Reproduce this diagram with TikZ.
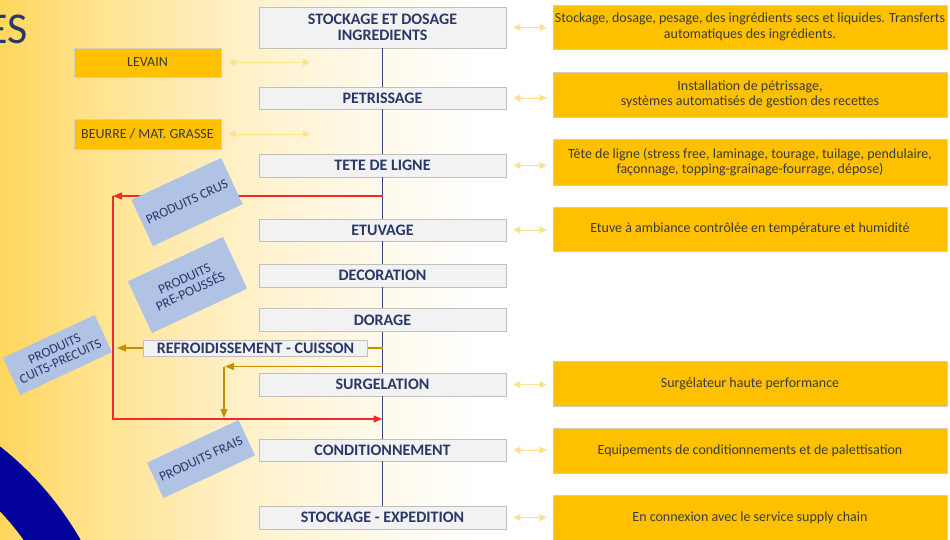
\documentclass[tikz,border=0pt]{standalone}
\usepackage{fontspec}
\setmainfont{Carlito}
\usetikzlibrary{arrows.meta}
\definecolor{yl0}{HTML}{FFD75E}
\definecolor{yl1}{HTML}{FFE28A}
\definecolor{yl2}{HTML}{FFEDBA}
\definecolor{yl3}{HTML}{FFF7E2}
\definecolor{navyarc}{HTML}{02029A}
\definecolor{navytxt}{HTML}{2A3868}
\definecolor{boxgray}{HTML}{BFBFBF}
\definecolor{boxfill}{HTML}{F2F2F2}
\definecolor{gold}{HTML}{FFC000}
\definecolor{goldborder}{HTML}{D6CDB4}
\definecolor{infotxt}{HTML}{3C3C3C}
\definecolor{pale}{HTML}{FFE08C}
\definecolor{redline}{HTML}{F02A2A}
\definecolor{olive}{HTML}{BF9000}
\definecolor{mainln}{HTML}{3A4677}
\definecolor{prodblue}{HTML}{B0C3E5}
\pgfdeclarehorizontalshading{bgshade}{100bp}{color(0bp)=(yl0); color(25bp)=(yl0); color(33bp)=(yl1); color(43bp)=(yl2); color(55bp)=(yl3); color(68bp)=(white); color(100bp)=(white)}
\begin{document}
\begin{tikzpicture}[x=1pt,y=-1pt,
  stepbox/.style={draw=boxgray, fill=boxfill, line width=0.9pt, minimum width=247pt, inner sep=0pt,
    font=\fontsize{16}{16.5}\selectfont\bfseries, text=navytxt, align=center},
  infobox/.style={draw=goldborder, fill=gold, line width=0.9pt, minimum width=394pt, inner sep=0pt,
    font=\fontsize{14}{15.5}\selectfont, text=infotxt, align=center},
  sidebox/.style={draw=goldborder, fill=gold, line width=0.9pt, minimum width=147pt, inner sep=0pt,
    font=\fontsize{14}{15}\selectfont, text=infotxt, align=center},
  prodbox/.style={fill=prodblue, rotate=25, inner sep=1pt, text=navytxt,
    font=\fontsize{13.5}{14}\selectfont, align=center},
  dbl/.style={draw=pale, line width=1pt, {Triangle[length=7pt,width=7pt]}-{Triangle[length=7pt,width=7pt]}},
  mainline/.style={draw=mainln, line width=1.3pt},
  redarrow/.style={draw=redline, line width=1.2pt, -{Triangle[length=9pt,width=7pt]}},
  goldarrow/.style={draw=olive, line width=1.2pt, -{Triangle[length=9pt,width=7pt]}},
  goldln/.style={draw=olive, line width=1.2pt}]
\useasboundingbox (0,0) rectangle (950,539);
% background
\fill[white] (0,0) rectangle (950,539);
\fill[shading=bgshade] (0,0) rectangle (560,539);
\begin{scope}
  \clip (0,0) rectangle (950,539);
  \fill[navyarc, even odd rule] (-200,700) circle (323pt) (-200,700) circle (275pt);
  \node[anchor=base east, inner sep=0pt, text=navytxt, font=\fontsize{44}{44}\selectfont] (title) at (28,43) {ES};
\end{scope}

% main steps
\node[stepbox, minimum height=41pt] (s1) at (382.5,27.5) {STOCKAGE ET DOSAGE\\INGREDIENTS};
\node[stepbox, minimum height=22pt] (s2) at (382.5,98) {PETRISSAGE};
\node[stepbox, minimum height=23pt] (s3) at (382.5,165.5) {TETE DE LIGNE};
\node[stepbox, minimum height=22pt] (s4) at (382.5,230) {ETUVAGE};
\node[stepbox, minimum height=23pt] (s5) at (382.5,275.5) {DECORATION};
\node[stepbox, minimum height=23pt] (s6) at (382.5,320) {DORAGE};
\node[stepbox, minimum height=16pt, minimum width=224pt] (cuis) at (255.5,348) {REFROIDISSEMENT - CUISSON};
\node[stepbox, minimum height=23pt] (s7) at (382.5,384.5) {SURGELATION};
\node[stepbox, minimum height=22pt] (s8) at (382.5,450) {CONDITIONNEMENT};
\node[stepbox, minimum height=23pt] (s9) at (382.5,517.5) {STOCKAGE - EXPEDITION};

% main line
\draw[mainline] (s1.south) -- (s2.north);
\draw[mainline] (s2.south) -- (s3.north);
\draw[mainline] (s3.south) -- (s4.north);
\draw[mainline] (s4.south) -- (s5.north);
\draw[mainline] (s5.south) -- (s6.north);
\draw[mainline] (s6.south) -- (s7.north);
\draw[mainline] (s7.south) -- (s8.north);
\draw[mainline] (s8.south) -- (s9.north);

% info boxes
\node[infobox, minimum height=44pt] (d1) at (750,27) {Stockage, dosage, pesage, des ingrédients secs et liquides. Transferts\\automatiques des ingrédients.};
\node[infobox, minimum height=45pt] (d2) at (750,94.5) {Installation de pétrissage,\\systèmes automatisés de gestion des recettes};
\node[infobox, minimum height=46pt] (d3) at (750,162) {Tête de ligne (stress free, laminage, tourage, tuilage, pendulaire,\\façonnage, topping-grainage-fourrage, dépose)};
\node[infobox, minimum height=44pt] (d4) at (750,229) {Etuve à ambiance contrôlée en température et humidité};
\node[infobox, minimum height=45pt] (d5) at (750,383.5) {Surgélateur haute performance};
\node[infobox, minimum height=45pt] (d6) at (750,450.5) {Equipements de conditionnements et de palettisation};
\node[infobox, minimum height=46pt] (d7) at (750,518) {En connexion avec le service supply chain};

\draw[dbl] ([xshift=7pt]s1.east) -- ([xshift=-6pt]s1.east -| d1.west);
\draw[dbl] ([xshift=7pt]s2.east) -- ([xshift=-6pt]s2.east -| d2.west);
\draw[dbl] ([xshift=7pt]s3.east) -- ([xshift=-6pt]s3.east -| d3.west);
\draw[dbl] ([xshift=7pt]s4.east) -- ([xshift=-6pt]s4.east -| d4.west);
\draw[dbl] ([xshift=7pt]s7.east) -- ([xshift=-6pt]s7.east -| d5.west);
\draw[dbl] ([xshift=7pt]s8.east) -- ([xshift=-6pt]s8.east -| d6.west);
\draw[dbl] ([xshift=7pt]s9.east) -- ([xshift=-6pt]s9.east -| d7.west);

% side inputs
\node[sidebox, minimum height=29pt] (lev) at (147.5,62.5) {LEVAIN};
\node[sidebox, minimum height=30pt] (beu) at (147.5,134) {BEURRE / MAT. GRASSE};
\coordinate (levend) at (310,62.5);
\coordinate (beuend) at (310,134);
\draw[dbl] ([xshift=7pt]lev.east) -- (levend);
\draw[dbl] ([xshift=7pt]beu.east) -- (beuend);

% red paths
\coordinate (rA) at (382.5,196);
\coordinate (rB) at (113,196);
\coordinate (rC) at (113,419);
\coordinate (rD) at (382.5,419);
\draw[redarrow] (rA) -- (rB);
\draw[redarrow] (rB) -- (rC) -- (rD);

% gold paths
\coordinate (gA) at (117,348);
\coordinate (gB) at (382.5,366.5);
\coordinate (gC) at (225,366.5);
\coordinate (gD) at (224,366.5);
\coordinate (gE) at (224,418);
\draw[goldln] (cuis.east) -- (cuis.east -| s6.south);
\draw[goldarrow] (cuis.west) -- (gA);
\draw[goldarrow] (gB) -- (gC);
\draw[goldarrow] (gD) -- (gE);

% product boxes
\node[prodbox, minimum width=99pt, minimum height=51pt] (pcrus) at (187,202) {PRODUITS CRUS};
\node[prodbox, minimum width=105pt, minimum height=57pt] (ppre) at (187.5,285) {PRODUITS\\PRE-POUSSÉS};
\node[prodbox, minimum width=101pt, minimum height=41pt] (pcuit) at (57.5,355) {PRODUITS\\CUITS-PRECUITS};
\node[prodbox, minimum width=101pt, minimum height=39pt] (pfrais) at (201,459) {PRODUITS FRAIS};
\end{tikzpicture}
\end{document}
